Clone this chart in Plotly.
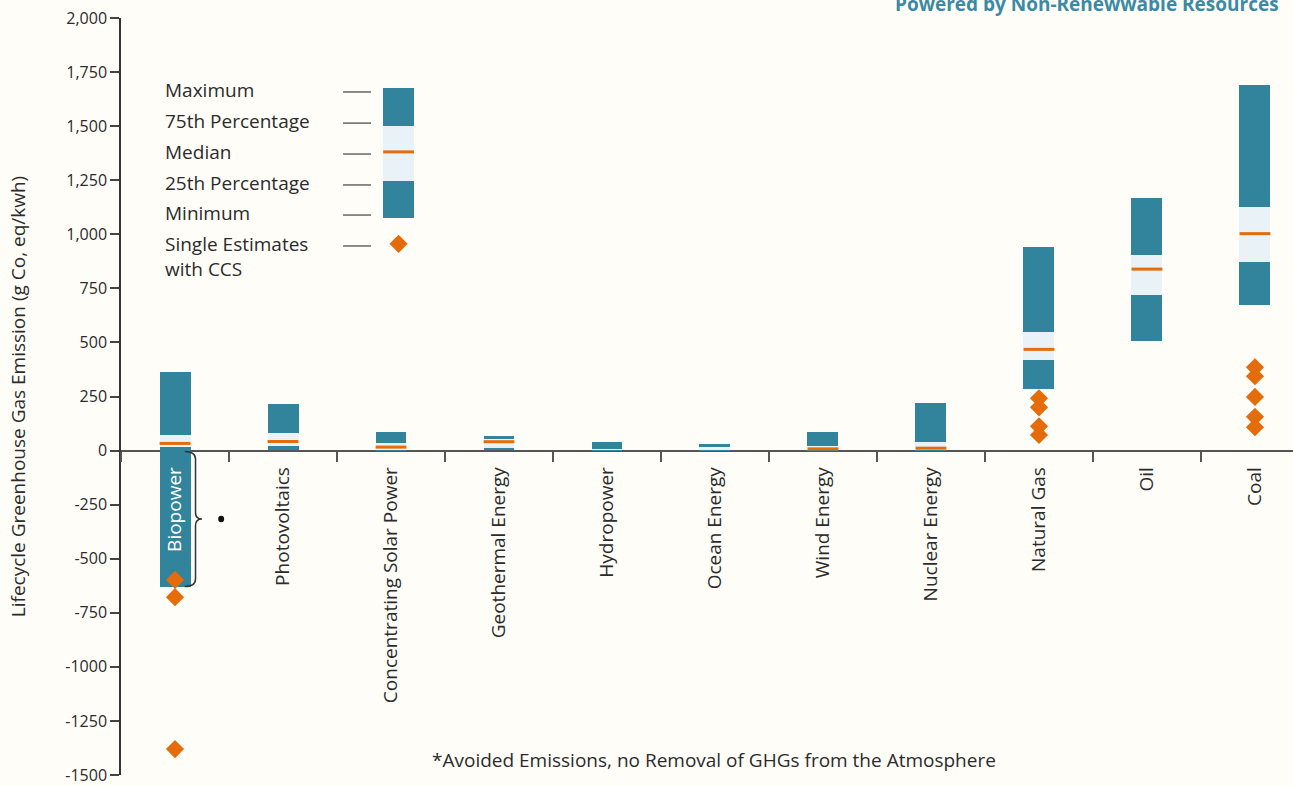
import plotly.graph_objects as go

# ---------------- data ----------------
categories = ["Biopower", "Photovoltaics", "Concentrating Solar Power", "Geothermal Energy",
              "Hydropower", "Ocean Energy", "Wind Energy", "Nuclear Energy",
              "Natural Gas", "Oil", "Coal"]
minimum = [-633, 2, 0, 3, 0, 0, 1, 1, 285, 508, 673]
pct25 = [15, 21, 2, 12, 3, 1, 4, 3, 421, 717, 874]
median = [33, 42, 16, 41, None, None, 8, 11, 468, 839, 1003]
pct75 = [70, 82, 36, 53, 7, 15, 22, 41, 549, 906, 1127]
maximum = [362, 214, 84, 68, 41, 30, 84, 218, 939, 1166, 1692]

ccs_category = ["Biopower", "Biopower", "Biopower",
                "Natural Gas", "Natural Gas", "Natural Gas", "Natural Gas",
                "Coal", "Coal", "Coal", "Coal", "Coal"]
ccs_value = [-598, -678, -1380, 242, 200, 112, 72, 385, 344, 248, 156, 108]

y_tick_values = [2000, 1750, 1500, 1250, 1000, 750, 500, 250, 0, -250, -500, -750, -1000, -1250, -1500]
y_tick_labels = ["2,000", "1,750", "1,500", "1,250", "1,000", "750", "500", "250", "0",
                 "-250", "-500", "-750", "-1000", "-1250", "-1500"]

# key (legend) sample: min, 25th, median, 75th, max, single CCS estimate
key_labels = ["Maximum", "75th Percentage", "Median", "25th Percentage", "Minimum", "Single Estimates"]
key_label_y = [1667, 1523, 1380, 1237, 1098, 955]
key_sample = [1076, 1247, 1381, 1501, 1677]
key_ccs = 956

# ---------------- styles ----------------
TEAL = "#31849b"
LIGHT = "#e9f2f6"
ORANGE = "#e46c0a"
TEXT = "#2b2b2b"
BG = "#fffdf8"
FONT = "Open Sans"
BAR_W = 0.287
KEY_X = 2.07
MED_SIZE = 22

x_idx = list(range(len(categories)))

fig = go.Figure()


def add_boxes(xs, mins, q1s, meds, q3s, maxs):
    fig.add_trace(go.Bar(x=xs, base=mins, y=[b - a for a, b in zip(mins, q1s)],
                         width=BAR_W, marker=dict(color=TEAL, line=dict(width=0)),
                         showlegend=False, hoverinfo="skip"))
    fig.add_trace(go.Bar(x=xs, base=q1s, y=[b - a for a, b in zip(q1s, q3s)],
                         width=BAR_W, marker=dict(color=LIGHT, line=dict(width=0)),
                         showlegend=False, hoverinfo="skip"))
    fig.add_trace(go.Bar(x=xs, base=q3s, y=[b - a for a, b in zip(q3s, maxs)],
                         width=BAR_W, marker=dict(color=TEAL, line=dict(width=0)),
                         showlegend=False, hoverinfo="skip"))
    fig.add_trace(go.Scatter(x=xs, y=meds, mode="markers",
                             marker=dict(symbol="line-ew", size=MED_SIZE,
                                         line=dict(color=ORANGE, width=3)),
                             showlegend=False, hoverinfo="skip"))


add_boxes(x_idx, minimum, pct25, median, pct75, maximum)

# key sample box
add_boxes([KEY_X], [key_sample[0]], [key_sample[1]], [key_sample[2]], [key_sample[3]], [key_sample[4]])

# single estimates with CCS
fig.add_trace(go.Scatter(x=[categories.index(c) for c in ccs_category], y=ccs_value,
                         mode="markers",
                         marker=dict(symbol="diamond", size=14, color=ORANGE, line=dict(width=0)),
                         showlegend=False, hoverinfo="skip"))
fig.add_trace(go.Scatter(x=[KEY_X], y=[key_ccs], mode="markers",
                         marker=dict(symbol="diamond", size=14, color=ORANGE, line=dict(width=0)),
                         showlegend=False, hoverinfo="skip"))

annotations = []
shapes = []

# key labels and dashes
for lab, yv in zip(key_labels, key_label_y):
    annotations.append(dict(x=-0.11, y=yv, xref="x", yref="y", text=lab, showarrow=False,
                            xanchor="left", yanchor="middle",
                            font=dict(family=FONT, size=19, color=TEXT)))
    shapes.append(dict(type="line", xref="x", yref="y", x0=1.556, x1=1.815,
                       y0=yv - 9, y1=yv - 9, line=dict(color="#666666", width=1.5)))
annotations.append(dict(x=-0.11, y=key_label_y[-1] - 116, xref="x", yref="y", text="with CCS",
                        showarrow=False, xanchor="left", yanchor="middle",
                        font=dict(family=FONT, size=19, color=TEXT)))

# brace next to biopower negative part
bot = minimum[0]
mid = bot / 2
brace = (f"M 0.09,-4 Q 0.19,-4 0.19,-40 L 0.19,{mid + 30} Q 0.19,{mid} 0.25,{mid} "
         f"Q 0.19,{mid} 0.19,{mid - 30} L 0.19,{bot + 40} Q 0.19,{bot + 4} 0.09,{bot + 4}")
shapes.append(dict(type="path", xref="x", yref="y", path=brace,
                   line=dict(color="#333333", width=1.5)))
shapes.append(dict(type="circle", xref="x", yref="y", x0=0.40, x1=0.455, y0=mid - 15, y1=mid + 15,
                   fillcolor="#111111", line=dict(width=0)))

# header (partly cut off) and footnote
annotations.append(dict(x=(1281 - 121) / 1172, y=(775 - 19) / 757, xref="paper", yref="paper",
                        text="<b>Powered by Non-Renewwable Resources</b>", showarrow=False,
                        xanchor="right", yanchor="bottom",
                        font=dict(family=FONT, size=19, color="#3a8aa5")))
annotations.append(dict(x=(714 - 121) / 1172, y=(775 - 760) / 757, xref="paper", yref="paper",
                        text="*Avoided Emissions, no Removal of GHGs from the Atmosphere",
                        showarrow=False, xanchor="center", yanchor="middle",
                        font=dict(family=FONT, size=19, color=TEXT)))

tick_text = ["<span style='color:white'>Biopower</span>"] + categories[1:]

fig.update_layout(
    width=1293, height=786,
    margin=dict(l=121, r=0, t=18, b=11),
    paper_bgcolor=BG, plot_bgcolor=BG,
    barmode="overlay", bargap=0,
    showlegend=False,
    annotations=annotations, shapes=shapes,
    xaxis=dict(
        range=[-0.5, 10.352], anchor="free", position=1500 / 3500,
        tickmode="array", tickvals=x_idx, ticktext=tick_text, tickangle=-90,
        ticks="outside", ticklen=8, tickcolor="rgba(0,0,0,0)",
        minor=dict(tickmode="linear", tick0=-0.5, dtick=1, ticks="outside", ticklen=10,
                   tickwidth=2, tickcolor="#555555", showgrid=False),
        tickfont=dict(family=FONT, size=19, color=TEXT),
        showline=False, showgrid=False, zeroline=False, fixedrange=True,
    ),
    yaxis=dict(
        range=[-1500, 2000], domain=[0, 1],
        tickmode="array", tickvals=y_tick_values, ticktext=y_tick_labels,
        ticks="outside", ticklen=9, tickwidth=1.5, tickcolor="#444444",
        tickfont=dict(family=FONT, size=16, color=TEXT),
        showline=True, linecolor="#333333", linewidth=1.5,
        showgrid=False, zeroline=True, zerolinecolor="#555555", zerolinewidth=2,
        title=dict(text="Lifecycle Greenhouse Gas Emission (g Co, eq/kwh)", standoff=35,
                   font=dict(family=FONT, size=19, color=TEXT)),
    ),
)

fig.write_html("out.html", config={"displayModeBar": False},
               post_script="document.body.style.margin='0';")
